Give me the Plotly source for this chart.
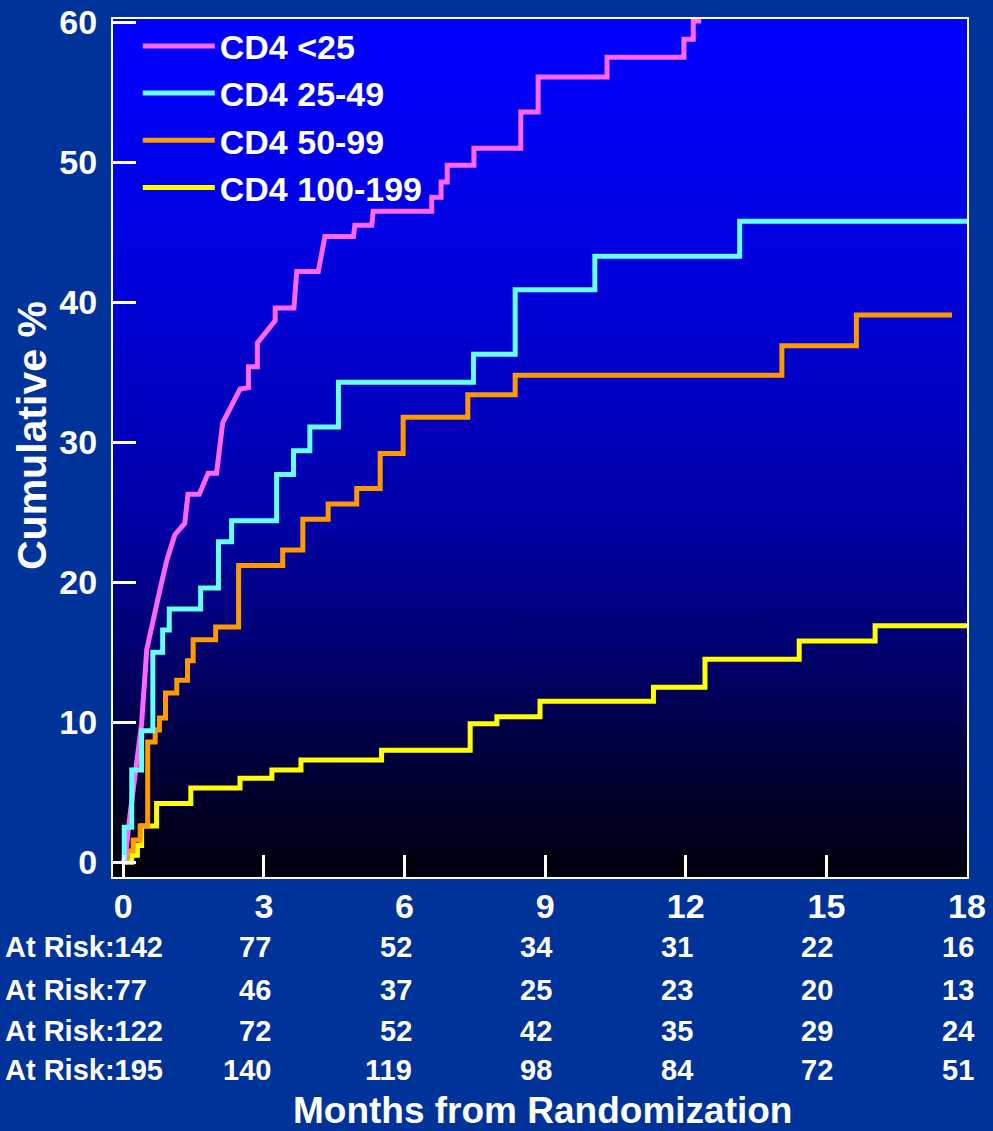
import base64
import plotly.graph_objects as go

# ---------------- data ----------------
months_ticks = [0, 3, 6, 9, 12, 15, 18]
y_ticks = [0, 10, 20, 30, 40, 50, 60]

series_names = ["CD4 <25", "CD4 25-49", "CD4 50-99", "CD4 100-199"]
series_colors = ["#FF66FF", "#66FFFF", "#FF9900", "#FFFF00"]

# CD4 <25 (drawn as a polyline through its read corner points)
cd4_lt25_x = [0.0, 0.04, 0.14, 0.28, 0.39, 0.50, 0.64, 0.78, 0.93, 1.10, 1.31, 1.38, 1.62,
              1.81, 1.99, 2.12, 2.49, 2.67, 2.67, 2.86, 2.86, 3.24, 3.24, 3.64, 3.70, 4.16,
              4.30, 4.91, 4.94, 5.30, 5.33, 6.58, 6.58, 6.78, 6.78, 6.91, 6.91, 7.48, 7.48,
              8.48, 8.48, 8.85, 8.85, 10.32, 10.32, 11.96, 11.96, 12.16, 12.16, 12.33]
cd4_lt25_y = [0.0, 0.3, 3.3, 6.8, 9.9, 15.2, 17.5, 19.45, 21.6, 23.4, 24.2, 26.3, 26.3,
              27.8, 27.8, 31.4, 33.8, 33.9, 35.4, 35.4, 37.1, 38.7, 39.6, 39.6, 42.2, 42.2,
              44.7, 44.7, 45.5, 45.5, 46.5, 46.5, 47.5, 47.5, 48.6, 48.6, 49.8, 49.8, 51.0,
              51.0, 53.6, 53.6, 56.1, 56.1, 57.5, 57.5, 58.8, 58.8, 60.1, 60.1]

# CD4 25-49 (step function)
cd4_25_49_x = [0.0, 0.02, 0.18, 0.39, 0.63, 0.84, 0.98, 1.65, 2.03, 2.31, 3.27, 3.63, 3.98,
               4.59, 7.47, 8.36, 10.06, 13.15, 18.0]
cd4_25_49_y = [0.0, 2.5, 6.6, 9.4, 15.0, 16.6, 18.1, 19.6, 22.9, 24.4, 27.7, 29.4, 31.1,
               34.3, 36.3, 40.9, 43.3, 45.8, 45.8]

# CD4 50-99 (step function)
cd4_50_99_x = [0.0, 0.07, 0.21, 0.36, 0.52, 0.68, 0.77, 0.90, 1.14, 1.37, 1.49, 1.97, 2.46,
               3.40, 3.83, 4.37, 4.98, 5.48, 5.97, 7.35, 8.36, 14.05, 15.64, 17.68]
cd4_50_99_y = [0.0, 0.8, 1.6, 2.6, 8.6, 9.45, 10.3, 12.1, 13.0, 14.4, 15.9, 16.8, 21.2,
               22.3, 24.5, 25.6, 26.7, 29.2, 31.8, 33.4, 34.8, 36.9, 39.1, 39.1]

# CD4 100-199 (step function)
cd4_100_199_x = [0.0, 0.18, 0.30, 0.39, 0.71, 1.44, 2.49, 3.17, 3.79, 5.51, 7.40, 7.97, 8.89,
                 11.31, 12.41, 14.42, 16.04, 18.0]
cd4_100_199_y = [0.0, 0.5, 1.2, 2.6, 4.2, 5.3, 6.0, 6.6, 7.3, 8.0, 9.9, 10.4, 11.5,
                 12.5, 14.5, 15.8, 16.9, 16.9]

# number at risk at each tick month (rows in series order)
at_risk_lt25 = [142, 77, 52, 34, 31, 22, 16]
at_risk_25_49 = [77, 46, 37, 25, 23, 20, 13]
at_risk_50_99 = [122, 72, 52, 42, 35, 29, 24]
at_risk_100_199 = [195, 140, 119, 98, 84, 72, 51]

# ---------------- figure ----------------
FONT = "Liberation Sans, Arial, sans-serif"
W, H = 993, 1131
ML, MR, MT, MB = 113, 26, 19, 254
PW, PH = W - ML - MR, H - MT - MB

def py_to_paper(py):
    return (H - MB - py) / PH

def px_to_paper(px):
    return (px - ML) / PW

fig = go.Figure()

# drawing order: yellow, orange, pink, cyan (legend keeps series order)
traces = [
    (cd4_100_199_x, cd4_100_199_y, 3, "hv"),
    (cd4_50_99_x, cd4_50_99_y, 2, "hv"),
    (cd4_lt25_x, cd4_lt25_y, 0, "linear"),
    (cd4_25_49_x, cd4_25_49_y, 1, "hv"),
]
for xs, ys, idx, shape in traces:
    fig.add_trace(go.Scatter(
        x=xs, y=ys, mode="lines", name=series_names[idx],
        line=dict(color=series_colors[idx], width=5, shape=shape),
        legendrank=idx + 1, hoverinfo="skip",
    ))

# gradient plot background
svg = ('<svg xmlns="http://www.w3.org/2000/svg" width="10" height="100" preserveAspectRatio="none">'
       '<defs><linearGradient id="g" x1="0" y1="0" x2="0" y2="1">'
       '<stop offset="0" stop-color="#0000FF"/>'
       '<stop offset="0.30" stop-color="#0000DC"/>'
       '<stop offset="0.58" stop-color="#0000A8"/>'
       '<stop offset="0.70" stop-color="#00007C"/>'
       '<stop offset="0.86" stop-color="#00003C"/>'
       '<stop offset="1" stop-color="#00000C"/>'
       '</linearGradient></defs><rect width="10" height="100" fill="url(#g)"/></svg>')
src = "data:image/svg+xml;base64," + base64.b64encode(svg.encode()).decode()
fig.add_layout_image(dict(source=src, xref="paper", yref="paper", x=0, y=1,
                          sizex=1, sizey=1, sizing="stretch", layer="below",
                          xanchor="left", yanchor="top"))

annotations = []
rows = [at_risk_lt25, at_risk_25_49, at_risk_50_99, at_risk_100_199]
row_py = [947, 990, 1031, 1070]
for row, ypx in zip(rows, row_py):
    yp = py_to_paper(ypx)
    annotations.append(dict(
        text="At Risk:" + str(row[0]), xref="paper", yref="paper",
        x=px_to_paper(3), y=yp, xanchor="left", yanchor="middle", showarrow=False,
        font=dict(family=FONT, size=29, color="white", weight="bold")))
    for m, v in zip(months_ticks[1:], row[1:]):
        annotations.append(dict(
            text=str(v), xref="x", yref="paper", x=m, y=yp, xshift=9,
            xanchor="right", yanchor="middle", showarrow=False,
            font=dict(family=FONT, size=29, color="white", weight="bold")))

annotations.append(dict(
    text="Months from Randomization", xref="paper", yref="paper",
    x=px_to_paper(542), y=py_to_paper(1110), xanchor="center", yanchor="middle",
    showarrow=False, font=dict(family=FONT, size=37, color="white", weight="bold")))
annotations.append(dict(
    text="Cumulative %", xref="paper", yref="paper", textangle=-90,
    x=px_to_paper(32), y=py_to_paper(436), xanchor="center", yanchor="middle",
    showarrow=False, font=dict(family=FONT, size=41, color="white", weight="bold")))

fig.update_layout(
    width=W, height=H,
    margin=dict(l=ML, r=MR, t=MT, b=MB, pad=0, autoexpand=False),
    paper_bgcolor="#003399",
    plot_bgcolor="#000010",
    font=dict(family=FONT, color="white"),
    showlegend=True,
    legend=dict(x=0.029, y=1.002, xanchor="left", yanchor="top",
                bgcolor="rgba(0,0,0,0)", borderwidth=0,
                font=dict(family=FONT, size=34, color="white", weight="bold"),
                itemwidth=72, tracegroupgap=0),
    annotations=annotations,
)
fig.update_xaxes(
    range=[-0.22, 18.0], tickvals=months_ticks, ticktext=[str(m) for m in months_ticks],
    showgrid=False, zeroline=False, automargin=False,
    showline=True, mirror=True, linecolor="white", linewidth=2,
    ticks="inside", ticklen=22, tickwidth=3, tickcolor="white",
    tickfont=dict(family=FONT, size=34, color="white", weight="bold"),
    ticklabelstandoff=-2,
)
fig.update_yaxes(
    range=[-1.05, 60.24], tickvals=y_ticks, ticktext=[str(v) for v in y_ticks],
    showgrid=False, zeroline=False, automargin=False,
    showline=True, mirror=True, linecolor="white", linewidth=2,
    ticks="inside", ticklen=23, tickwidth=3, tickcolor="white",
    tickfont=dict(family=FONT, size=34, color="white", weight="bold"),
    ticklabelstandoff=7,
)

fig.write_html(
    "out.html",
    config={"displayModeBar": False},
    post_script="document.body.style.margin='0';document.body.style.overflow='hidden';",
)
